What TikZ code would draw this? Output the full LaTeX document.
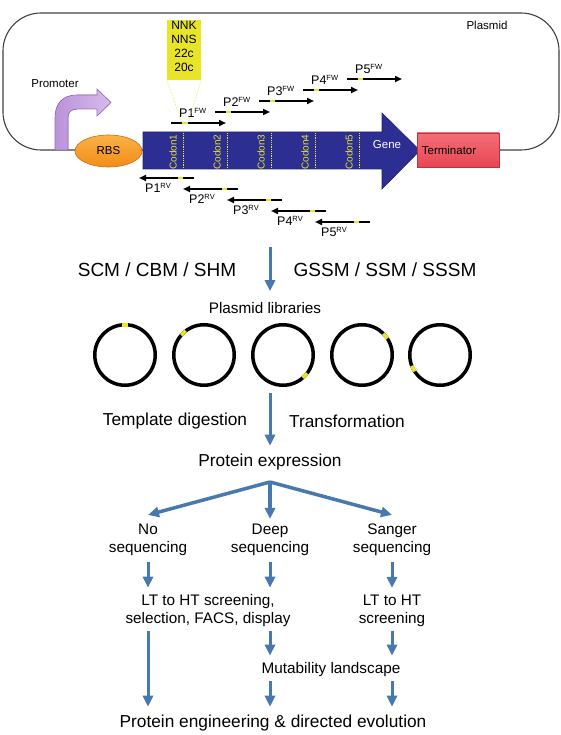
\documentclass[tikz,border=0pt]{standalone}
\usepackage{fontspec}
\setmainfont{Liberation Sans}
\usetikzlibrary{arrows.meta,shapes.geometric}

\definecolor{geneblue}{RGB}{44,46,146}
\definecolor{codonyellow}{RGB}{232,228,40}
\definecolor{rbsorange}{RGB}{242,140,24}
\definecolor{rbslight}{RGB}{250,178,70}
\definecolor{rbsedge}{RGB}{205,105,20}
\definecolor{termred}{RGB}{232,70,82}
\definecolor{termlight}{RGB}{244,110,118}
\definecolor{termedge}{RGB}{190,50,60}
\definecolor{promviolet}{RGB}{186,146,216}
\definecolor{promlight}{RGB}{214,188,236}
\definecolor{promedge}{RGB}{150,110,185}
\definecolor{flowblue}{RGB}{72,120,176}

\newcommand{\primsup}[1]{\raisebox{3.6pt}{\fontsize{7.5}{8}\selectfont #1}}

\tikzset{
	primer/.style={line width=1.8pt, -{Triangle[length=7pt,width=6pt]}},
	primermark/.style={codonyellow, line width=1.8pt},
	primerlbl/.style={font=\fontsize{12.5}{14}\selectfont, inner sep=0pt},
	codonlbl/.style={rotate=90, codonyellow, font=\fontsize{10}{12}\selectfont, inner sep=0pt},
	codonline/.style={codonyellow, densely dotted, line width=0.8pt},
	smalltext/.style={font=\fontsize{11.5}{14}\selectfont, inner sep=0pt},
	methodtext/.style={font=\fontsize{19}{22}\selectfont, inner sep=0pt},
	bigtext/.style={font=\fontsize{17.3}{20}\selectfont, inner sep=0pt},
	steptext/.style={font=\fontsize{15.3}{18}\selectfont, align=center, inner sep=0pt},
	ring/.style={circle, draw, line width=3.5pt, minimum size=60.5pt, inner sep=0pt, outer sep=0pt},
	ringmark/.style={codonyellow, line width=3.6pt},
	flow/.style={flowblue, line width=3pt, -{Triangle[length=11pt,width=10pt]}},
	branch/.style={flowblue, line width=3.5pt, -{Triangle[length=11pt,width=10pt]}}
}

\begin{document}
\begin{tikzpicture}[x=1pt,y=-1pt]
	\useasboundingbox (0,0) rectangle (560,735);

	%plasmid backbone
	\draw[black!75, line width=1.1pt, rounded corners=38pt] (3,13) rectangle (559,150);
	\node[smalltext] (plasmid) at (487,25) {Plasmid};

	%promoter
	\filldraw[left color=promviolet, right color=promlight, draw=promedge, line width=0.6pt] (55,150) -- (55,118) .. controls (55,104) and (62,95) .. (77,95) -- (97,95) -- (97,89) -- (111,102.5) -- (97,116) -- (97,109) -- (78,109) .. controls (71,109) and (68,112) .. (68,118) -- (68,150) -- cycle;
	\node[smalltext] (promoter) at (55,84) {Promoter};

	%RBS
	\node[ellipse, draw=rbsedge, top color=rbslight, bottom color=rbsorange, line width=0.6pt, minimum width=67pt, minimum height=32pt, smalltext] (rbs) at (108.5,151) {RBS};

	%gene with five codons
	\filldraw[fill=geneblue, draw=geneblue!80!black, line width=0.6pt] (143,132) -- (382,132) -- (382,113) -- (420,150.5) -- (382,189) -- (382,169) -- (143,169) -- cycle;
	\node[smalltext, white] (gene) at (387,145) {Gene};
	\draw[codonline] (183,133) -- (183,168);
	\draw[codonline] (227,133) -- (227,168);
	\draw[codonline] (271,133) -- (271,168);
	\draw[codonline] (315,133) -- (315,168);
	\draw[codonline] (359,133) -- (359,168);
	\node[codonlbl] (codon1) at (173,152) {Codon1};
	\node[codonlbl] (codon2) at (217,152) {Codon2};
	\node[codonlbl] (codon3) at (261,152) {Codon3};
	\node[codonlbl] (codon4) at (305,152) {Codon4};
	\node[codonlbl] (codon5) at (349,152) {Codon5};

	%terminator
	\filldraw[top color=termlight, bottom color=termred, draw=termedge, line width=0.6pt] (417,133) rectangle (499,167);
	\node[smalltext] (terminator) at (449,150) {Terminator};

	%forward primers
	\draw[primer] (171,123) -- (226,123);
	\draw[primermark] (182,123) -- coordinate (p1mark) (188,123);
	\node[primerlbl, anchor=base west] (p1fw) at (179,117.5) {P1\primsup{FW}};
	\draw[primer] (215,112) -- (270,112);
	\draw[primermark] (226,112) -- (231,112);
	\node[primerlbl, anchor=base west] (p2fw) at (223,106.5) {P2\primsup{FW}};
	\draw[primer] (259,101) -- (314,101);
	\draw[primermark] (270,101) -- (275,101);
	\node[primerlbl, anchor=base west] (p3fw) at (267,95.5) {P3\primsup{FW}};
	\draw[primer] (303,90) -- (358,90);
	\draw[primermark] (314,90) -- (319,90);
	\node[primerlbl, anchor=base west] (p4fw) at (311,84.5) {P4\primsup{FW}};
	\draw[primer] (347,79) -- (402,79);
	\draw[primermark] (358,79) -- (363,79);
	\node[primerlbl, anchor=base west] (p5fw) at (355,73.5) {P5\primsup{FW}};

	%degenerate codons
	\node[fill=codonyellow, minimum width=34pt, minimum height=60pt, inner sep=0pt] (degenbox) at (184,50) {};
	\node[font=\fontsize{12}{14}\selectfont, inner sep=0pt, align=center] (degen) at (184,46) {NNK\\NNS\\22c\\20c};
	\draw[codonyellow, densely dotted, line width=0.6pt] (degenbox.south west) -- ([xshift=-3pt]p1mark);
	\draw[codonyellow, densely dotted, line width=0.6pt] (degenbox.south east) -- ([xshift=3pt]p1mark);

	%reverse primers
	\draw[primer] (194,178) -- (139,178);
	\draw[primermark] (178,178) -- (183,178);
	\node[primerlbl, anchor=base west] (p1rv) at (145,192.5) {P1\primsup{RV}};
	\draw[primer] (238,189) -- (183,189);
	\draw[primermark] (222,189) -- (227,189);
	\node[primerlbl, anchor=base west] (p2rv) at (189,203.5) {P2\primsup{RV}};
	\draw[primer] (282,200) -- (227,200);
	\draw[primermark] (266,200) -- (271,200);
	\node[primerlbl, anchor=base west] (p3rv) at (233,214.5) {P3\primsup{RV}};
	\draw[primer] (326,211) -- (271,211);
	\draw[primermark] (310,211) -- (315,211);
	\node[primerlbl, anchor=base west] (p4rv) at (277,225.5) {P4\primsup{RV}};
	\draw[primer] (370,222) -- (315,222);
	\draw[primermark] (354,222) -- (359,222);
	\node[primerlbl, anchor=base west] (p5rv) at (321,236.5) {P5\primsup{RV}};

	%mutagenesis methods
	\coordinate (genedown) at (270,247);
	\node[methodtext] (scm) at (157,270) {SCM / CBM / SHM};
	\node[methodtext] (gssm) at (385,270) {GSSM / SSM / SSSM};

	%plasmid libraries
	\node[steptext] (libs) at (265,308) {Plasmid libraries};
	\node[ring] (lib1) at (125,355) {};
	\node[ring] (lib2) at (204,355) {};
	\node[ring] (lib3) at (283,355) {};
	\node[ring] (lib4) at (362,355) {};
	\node[ring] (lib5) at (440,355) {};
	\draw[ringmark] (lib1.84) -- (lib1.96);
	\draw[ringmark] (lib2.127) -- (lib2.139);
	\draw[ringmark] (lib3.-49) -- (lib3.-37);
	\draw[ringmark] (lib4.33) -- (lib4.45);
	\draw[ringmark] (lib5.201) -- (lib5.213);
	\draw[flow, shorten >=11pt] (genedown) -- (genedown |- libs.north);

	\node[bigtext] (digest) at (175,421) {Template digestion};
	\node[bigtext] (transform) at (347,421) {Transformation};
	\node[bigtext] (expr) at (270,462) {Protein expression};
	\draw[flow, shorten <=8pt, shorten >=8pt] (expr.north |- lib3.south) -- (expr.north);

	%sequencing branches
	\node[steptext] (noseq) at (148,540) {No\\sequencing};
	\node[steptext] (deep) at (270,540) {Deep\\sequencing};
	\node[steptext] (sanger) at (392,540) {Sanger\\sequencing};
	\coordinate (fork) at (270,482);
	\draw[branch] (fork) -- ([yshift=9pt]noseq.north);
	\draw[branch] (fork) -- ([yshift=5pt]deep.north);
	\draw[branch] (fork) -- ([yshift=9pt]sanger.north);

	%screening
	\node[steptext] (screenall) at (208,611) {LT to HT screening,\\selection, FACS, display};
	\node[steptext] (screenlt) at (392,611) {LT to HT\\screening};
	\node[steptext] (mutland) at (331,670) {Mutability landscape};
	\node[bigtext] (engine) at (273,723) {Protein engineering \& directed evolution};

	\draw[flow, shorten <=6pt, shorten >=7pt] (noseq.south) -- (noseq.south |- screenall.north);
	\draw[flow, shorten <=6pt, shorten >=7pt] (deep.south) -- (deep.south |- screenall.north);
	\draw[flow, shorten <=6pt, shorten >=7pt] (sanger.south) -- (screenlt.north);
	\draw[flow, shorten <=4pt, shorten >=8pt] (noseq.south |- screenall.south) -- (noseq.south |- engine.north);
	\draw[flow, shorten <=4pt, shorten >=7pt] (deep.south |- screenall.south) -- (deep.south |- mutland.north);
	\draw[flow, shorten <=4pt, shorten >=7pt] (screenlt.south) -- (screenlt.south |- mutland.north);
	\draw[flow, shorten <=4pt, shorten >=8pt] (deep.south |- mutland.south) -- (deep.south |- engine.north);
	\draw[flow, shorten <=4pt, shorten >=8pt] (screenlt.south |- mutland.south) -- (screenlt.south |- engine.north);
\end{tikzpicture}
\end{document}
